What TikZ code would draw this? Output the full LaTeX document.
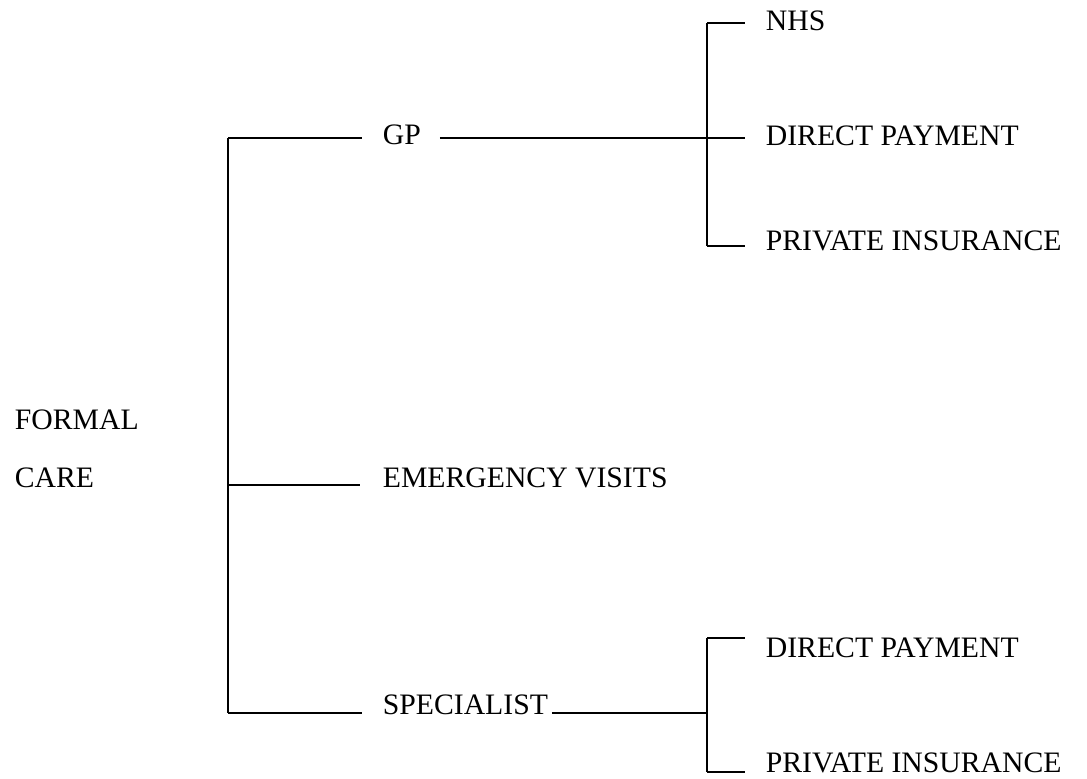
\documentclass[tikz,border=0pt]{standalone}
\usepackage{fontspec}
\setmainfont{Liberation Serif}
\usetikzlibrary{calc}
\begin{document}
\begin{tikzpicture}[x = 0.5pt, y = -0.5pt, line width = 0.9pt,
  lbl/.style = {inner sep = 0pt, anchor = base west, font = \fontsize{14.85}{16}\selectfont}]
\useasboundingbox (0,0) rectangle (1087,778);
\node[lbl] (formal) at (14,429) {FORMAL};
\node[lbl] (care) at (14,487) {CARE};
\node[lbl] (gp) at (382,144) {GP};
\node[lbl] (emerg) at (382,487) {EMERGENCY VISITS};
\node[lbl] (spec) at (382,714) {SPECIALIST};
\node[lbl] (nhs) at (765,30) {NHS};
\node[lbl] (gpdirect) at (765,145) {DIRECT PAYMENT};
\node[lbl] (gpprivate) at (765,250) {PRIVATE INSURANCE};
\node[lbl] (spdirect) at (765,657) {DIRECT PAYMENT};
\node[lbl] (spprivate) at (765,772) {PRIVATE INSURANCE};
% main trunk
\coordinate (trunktop) at (228,138);
\coordinate (trunkmid) at (228,485);
\coordinate (trunkbot) at (228,713);
\draw (trunktop) -- (trunkbot);
\draw (trunktop) -- ($(gp.base west)+(-20,-6)$);
\draw (trunkmid) -- ($(emerg.base west)+(-22,-2)$);
\draw (trunkbot) -- ($(spec.base west)+(-20,-1)$);
% GP fork
\coordinate (gpfork) at (707,138);
\coordinate (gpforktop) at (707,23);
\coordinate (gpforkbot) at (707,246);
\draw ($(gp.base east)+(18,-6)$) -- (gpfork);
\draw (gpforktop) -- (gpforkbot);
\draw (gpforktop) -- ($(nhs.base west)+(-20,-7)$);
\draw (gpfork) -- ($(gpdirect.base west)+(-20,-7)$);
\draw (gpforkbot) -- ($(gpprivate.base west)+(-20,-4)$);
% specialist fork
\coordinate (spfork) at (707,713);
\coordinate (spforktop) at (707,638);
\coordinate (spforkbot) at (707,772);
\draw ($(spec.base east)+(3,-1)$) -- (spfork);
\draw (spforktop) -- (spforkbot);
\draw (spforktop) -- ($(spdirect.base west)+(-20,-19)$);
\draw (spforkbot) -- ($(spprivate.base west)+(-20,0)$);
\end{tikzpicture}
\end{document}
